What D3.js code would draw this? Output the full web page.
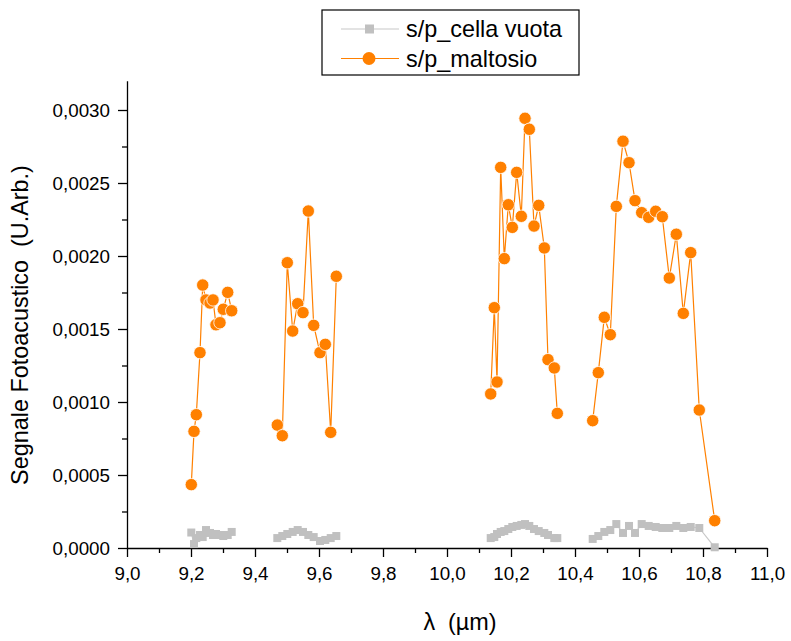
<!DOCTYPE html>
<html>
<head>
<meta charset="utf-8">
<script src="https://cdn.jsdelivr.net/npm/d3@7"></script>
<style>
    body { margin: 0; background: #fff; }
    svg { font-family: "Liberation Sans", Arial, sans-serif; }
    .tick text { font-size: 18.8px; fill: #000; }
    .axis path, .axis line { stroke: #000; stroke-width: 1.3px; }
    .label { font-size: 23.4px; white-space: pre; }
</style>
</head>
<body>
<svg id="chart" width="791" height="641"></svg>
<script>
// CO2 laser lines, one array per branch (gaps between branches are not joined)
const lambda9R = [9.2009, 9.2094, 9.2166, 9.2281, 9.2366, 9.2469, 9.2594, 9.2688, 9.2781, 9.2906, 9.3009, 9.3147, 9.3272];
const lambda9P = [9.4697, 9.4853, 9.5009, 9.5178, 9.5334, 9.5500, 9.5666, 9.5834, 9.6031, 9.6197, 9.6366, 9.6541];
const lambda10R = [10.1366, 10.1478, 10.1563, 10.1678, 10.1791, 10.1916, 10.2041, 10.2178, 10.2322, 10.2438, 10.2572, 10.2719, 10.2866, 10.3041, 10.3156, 10.3353, 10.3447];
const lambda10P = [10.4553, 10.4728, 10.4916, 10.5103, 10.5291, 10.5500, 10.5688, 10.5875, 10.6084, 10.6303, 10.6522, 10.6728, 10.6947, 10.7166, 10.7384, 10.7616, 10.7884, 10.8366];

// s/p_maltosio
const maltosio9R = [0.000434, 0.000799, 0.000913, 0.001338, 0.001801, 0.001699, 0.001678, 0.001699, 0.001529, 0.001543, 0.001635, 0.001751, 0.001625];
const maltosio9P = [0.000842, 0.000769, 0.001954, 0.001486, 0.001673, 0.001612, 0.002308, 0.001525, 0.001338, 0.001395, 0.000792, 0.001861];
const maltosio10R = [0.001055, 0.001646, 0.001137, 0.002607, 0.001982, 0.002351, 0.002196, 0.002573, 0.002272, 0.002943, 0.002868, 0.002205, 0.002347, 0.002055, 0.001290, 0.001233, 0.000922];
const maltosio10P = [0.000872, 0.001201, 0.001580, 0.001461, 0.002340, 0.002786, 0.002639, 0.002379, 0.002297, 0.002265, 0.002306, 0.002269, 0.001849, 0.002149, 0.001607, 0.002023, 0.000945, 0.000187];

// s/p_cella vuota
const cella9R = [0.000106, 0.000027, 0.000068, 0.000089, 0.000075, 0.000123, 0.000103, 0.000089, 0.000096, 0.000089, 0.000082, 0.000089, 0.000110];
const cella9P = [0.000068, 0.000082, 0.000096, 0.000110, 0.000123, 0.000110, 0.000089, 0.000075, 0.000048, 0.000055, 0.000068, 0.000082];
const cella10R = [0.000068, 0.000075, 0.000096, 0.000110, 0.000116, 0.000130, 0.000144, 0.000151, 0.000158, 0.000164, 0.000151, 0.000130, 0.000116, 0.000103, 0.000089, 0.000068, 0.000068];
const cella10P = [0.000062, 0.000082, 0.000110, 0.000123, 0.000164, 0.000103, 0.000151, 0.000103, 0.000164, 0.000151, 0.000144, 0.000137, 0.000137, 0.000151, 0.000137, 0.000144, 0.000137, 0.000005];

const xTicks = [9.0, 9.2, 9.4, 9.6, 9.8, 10.0, 10.2, 10.4, 10.6, 10.8, 11.0];
const yTicks = [0, 0.0005, 0.0010, 0.0015, 0.0020, 0.0025, 0.0030];

const lambdas = [lambda9R, lambda9P, lambda10R, lambda10P];
const series = [
    { name: 's/p_cella vuota', values: [cella9R, cella9P, cella10R, cella10P], colour: '#c0c0c0', line: '#c8c8c8', shape: 'square' },
    { name: 's/p_maltosio', values: [maltosio9R, maltosio9P, maltosio10R, maltosio10P], colour: '#ff8000', line: '#ff8000', shape: 'circle' }
];

const svg = d3.select('#chart');
const plotLeft = 127, plotRight = 767, plotBottom = 548, plotTop = 548 - 0.0032 * 146000;

const xScale = d3.scaleLinear().domain([9, 11]).range([plotLeft, plotRight]);
const yScale = d3.scaleLinear().domain([0, 0.0032]).range([plotBottom, plotTop]);

const it = d3.formatLocale({ decimal: ',', thousands: '.', grouping: [3], currency: ['', ''] });

// minor ticks first, majors on top
svg.append('g')
    .attr('class', 'axis')
    .attr('transform', `translate(0, ${plotBottom})`)
    .call(d3.axisBottom(xScale).tickValues(d3.range(9.1, 11, 0.2)).tickSize(5).tickFormat(''))
    .call(g => g.select('.domain').remove());

svg.append('g')
    .attr('class', 'axis')
    .attr('transform', `translate(0, ${plotBottom})`)
    .call(d3.axisBottom(xScale).tickValues(xTicks).tickSizeInner(9).tickSizeOuter(0).tickPadding(10).tickFormat(it.format('.1f')));

svg.append('g')
    .attr('class', 'axis')
    .attr('transform', `translate(${plotLeft}, 0)`)
    .call(d3.axisLeft(yScale).tickValues(d3.range(0.00025, 0.0032, 0.0005)).tickSize(5).tickFormat(''))
    .call(g => g.select('.domain').remove());

svg.append('g')
    .attr('class', 'axis')
    .attr('transform', `translate(${plotLeft}, 0)`)
    .call(d3.axisLeft(yScale).tickValues(yTicks).tickSizeInner(9).tickSizeOuter(0).tickPadding(8).tickFormat(it.format('.4f')));

const line = d3.line()
    .x(d => xScale(d[0]))
    .y(d => yScale(d[1]));

series.forEach(s => {
    const g = svg.append('g');
    const pts = [];
    lambdas.forEach((lam, b) => {
        const seg = lam.map((l, i) => [l, s.values[b][i]]);
        pts.push(...seg);
        g.append('path')
            .attr('d', line(seg))
            .attr('fill', 'none')
            .attr('stroke', s.line)
            .attr('stroke-width', 1.2);
    });
    if (s.shape === 'square') {
        g.selectAll('rect')
            .data(pts)
            .enter()
            .append('rect')
            .attr('x', d => xScale(d[0]) - 4)
            .attr('y', d => yScale(d[1]) - 4)
            .attr('width', 8)
            .attr('height', 8)
            .attr('fill', s.colour);
    } else {
        g.selectAll('circle')
            .data(pts)
            .enter()
            .append('circle')
            .attr('cx', d => xScale(d[0]))
            .attr('cy', d => yScale(d[1]))
            .attr('r', 6.2)
            .attr('fill', s.colour)
            .attr('stroke', '#fff')
            .attr('stroke-width', 0.8);
    }
});

// legend
const legend = svg.append('g');
legend.append('rect')
    .attr('x', 322)
    .attr('y', 10)
    .attr('width', 257)
    .attr('height', 65)
    .attr('fill', '#fff')
    .attr('stroke', '#000')
    .attr('stroke-width', 1.2);

series.forEach((s, i) => {
    const cy = 29 + i * 29.5;
    legend.append('line')
        .attr('x1', 341)
        .attr('x2', 399)
        .attr('y1', cy)
        .attr('y2', cy)
        .attr('stroke', s.line)
        .attr('stroke-width', 1.2);
    if (s.shape === 'square') {
        legend.append('rect')
            .attr('x', 365)
            .attr('y', cy - 4.5)
            .attr('width', 9)
            .attr('height', 9)
            .attr('fill', s.colour);
    } else {
        legend.append('circle')
            .attr('cx', 369)
            .attr('cy', cy)
            .attr('r', 6.5)
            .attr('fill', s.colour);
    }
    legend.append('text')
        .attr('class', 'label')
        .attr('x', 406)
        .attr('y', cy + 8)
        .text(s.name);
});

// axis titles
svg.append('text')
    .attr('class', 'label')
    .attr('transform', 'translate(28, 325) rotate(-90)')
    .attr('text-anchor', 'middle')
    .text('Segnale Fotoacustico  (U.Arb.)');

svg.append('text')
    .attr('class', 'label')
    .attr('x', 460)
    .attr('y', 630)
    .attr('text-anchor', 'middle')
    .text('λ  (µm)');
</script>
</body>
</html>
